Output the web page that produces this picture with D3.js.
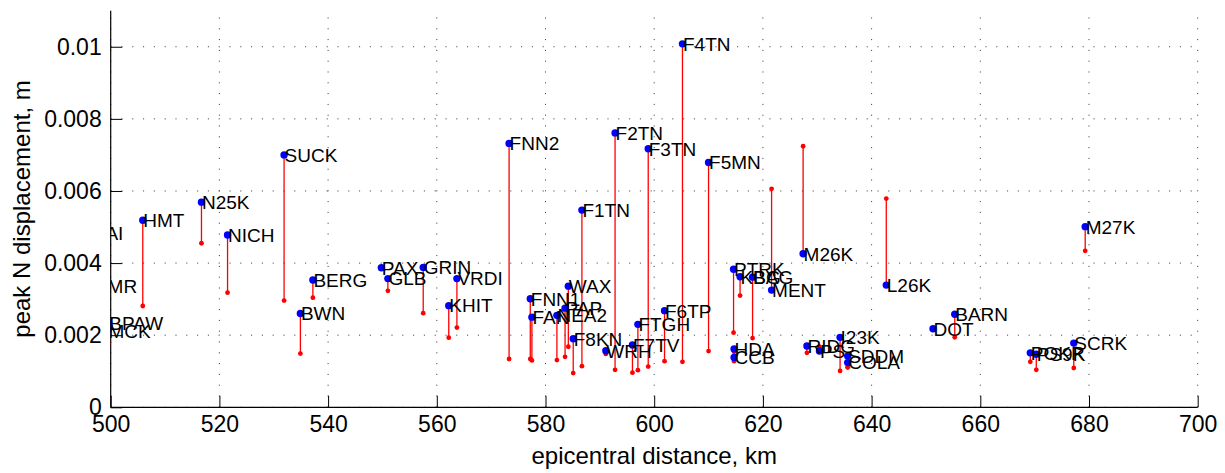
<!DOCTYPE html>
<html>
<head>
<meta charset="utf-8">
<script src="https://cdn.jsdelivr.net/npm/d3@7/dist/d3.min.js"></script>
<style>
  html, body { margin: 0; padding: 0; background: #fff; }
  svg { display: block; }
  text { font-family: "Liberation Sans", Arial, Helvetica, sans-serif; fill: #000; }
</style>
</head>
<body>
<svg id="chart" width="1225" height="473"></svg>
<script>
// Station codes, epicentral distance (km), observed and predicted peak N displacement (m)
const stations = ["KAI", "BMR", "BPAW", "MCK", "HMT", "N25K", "NICH", "SUCK", "BWN", "BERG",
  "PAX", "GLB", "GRIN", "VRDI", "KHIT", "FNN2", "FNN1", "FAN", "NEA2", "PAP", "WAX", "F8KN",
  "F1TN", "WRH", "F2TN", "F7TV", "FTGH", "F3TN", "F6TP", "F4TN", "F5MN", "PTRK", "HDA", "CCB",
  "KBG", "BAG", "MENT", "M26K", "RIDG", "PS", "I23K", "SDDM", "COLA", "L26K", "DOT", "BARN",
  "POKR", "PS9K", "SCRK", "M27K"];
const distance = [496.6, 497.0, 499.65, 499.5, 505.9, 516.7, 521.5, 531.9, 534.9, 537.2,
  549.8, 551.0, 557.5, 563.7, 562.2, 573.3, 577.2, 577.5, 582.1, 583.6, 584.2, 585.1,
  586.7, 591.1, 592.8, 596.0, 597.0, 598.9, 601.9, 605.2, 610.0, 614.6, 614.7, 614.7,
  615.8, 618.1, 621.6, 627.4, 628.1, 630.4, 634.2, 635.6, 635.6, 642.7, 651.3, 655.3,
  669.2, 670.3, 677.2, 679.3];
const observed = [0.00482, 0.00336, 0.00233, 0.00212, 0.00519, 0.00569, 0.00478, 0.00700, 0.00260, 0.00353,
  0.00387, 0.00357, 0.00388, 0.00357, 0.00282, 0.00732, 0.00301, 0.00250, 0.00255, 0.00275, 0.00336, 0.00190,
  0.00547, 0.00157, 0.00761, 0.00173, 0.00230, 0.00717, 0.00268, 0.01008, 0.00679, 0.00383, 0.00162, 0.00138,
  0.00362, 0.00361, 0.00325, 0.00426, 0.00170, 0.00156, 0.00194, 0.00142, 0.00124, 0.00339, 0.00218, 0.00258,
  0.00151, 0.00147, 0.00178, 0.00501];
const predicted = [0.00300, 0.00250, 0.00180, 0.00170, 0.00281, 0.00455, 0.00318, 0.00296, 0.00149, 0.00304,
  0.00385, 0.00323, 0.00261, 0.00221, 0.00193, 0.00134, 0.00134, 0.00130, 0.00131, 0.00140, 0.00168, 0.00095,
  0.00114, 0.00148, 0.00104, 0.00096, 0.00103, 0.00113, 0.00128, 0.00126, 0.00156, 0.00207, 0.00154, 0.00128,
  0.00310, 0.00192, 0.00606, 0.00724, 0.00151, 0.00168, 0.00101, 0.00111, 0.00111, 0.00579, 0.00215, 0.00194,
  0.00126, 0.00104, 0.00109, 0.00434];

const xTicks = [500, 520, 540, 560, 580, 600, 620, 640, 660, 680, 700];
const yTicks = [0, 0.002, 0.004, 0.006, 0.008, 0.01];
const xTitle = "epicentral distance, km";
const yTitle = "peak N displacement, m";

const svg = d3.select("#chart");
const plot = { left: 110.7, right: 1197.7, top: 10.7, bottom: 407.3 };

const x = d3.scaleLinear().domain([500, 700]).range([plot.left, plot.right]);
const y = d3.scaleLinear().domain([0, 0.011]).range([plot.bottom, plot.top]);

svg.append("defs").append("clipPath").attr("id", "plotClip")
  .append("rect")
  .attr("x", plot.left).attr("y", 0)
  .attr("width", plot.right - plot.left + 20).attr("height", plot.bottom);

// dotted grid
const grid = svg.append("g").attr("stroke", "#000").attr("stroke-width", 1)
  .attr("stroke-dasharray", "1,9.8").attr("opacity", 0.8);
grid.selectAll("line.v").data(xTicks).join("line")
  .attr("x1", d => x(d)).attr("x2", d => x(d))
  .attr("y1", plot.bottom).attr("y2", plot.top);
grid.selectAll("line.h").data(yTicks).join("line")
  .attr("x1", plot.left).attr("x2", plot.right)
  .attr("y1", d => y(d)).attr("y2", d => y(d));

// axes
const fmtY = d => d === 0 ? "0" : d3.format("~g")(d);
const xAxis = d3.axisBottom(x).tickValues(xTicks).tickSize(-11.5).tickPadding(8).tickFormat(d3.format("d"));
const yAxis = d3.axisLeft(y).tickValues(yTicks).tickSize(-11.5).tickPadding(9).tickFormat(fmtY);

const gx = svg.append("g").attr("transform", `translate(0,${plot.bottom})`).call(xAxis);
const gy = svg.append("g").attr("transform", `translate(${plot.left},0)`).call(yAxis);
[gx, gy].forEach(g => {
  g.select(".domain").attr("stroke", "#000").attr("stroke-width", 1.2);
  g.selectAll(".tick line").attr("stroke", "#000").attr("stroke-width", 1);
  g.selectAll(".tick text").style("font-size", "23px").attr("fill", "#000")
    .style("font-family", "'Liberation Sans', Arial, sans-serif");
});
gx.select(".domain").attr("d", `M${plot.left},0H${plot.right}`);
gy.select(".domain").attr("d", `M0,${plot.bottom}V${plot.top}`);

// axis titles
svg.append("text").attr("x", (plot.left + plot.right) / 2).attr("y", 464)
  .attr("text-anchor", "middle").style("font-size", "24px").text(xTitle);
svg.append("text").attr("transform", `translate(30,${(plot.top + plot.bottom) / 2}) rotate(-90)`)
  .attr("text-anchor", "middle").style("font-size", "24px").text(yTitle);

// station marks
const data = stations.map((s, i) => ({ s, d: distance[i], o: observed[i], p: predicted[i] }));
const marks = svg.append("g").attr("clip-path", "url(#plotClip)");

marks.selectAll("line.stem").data(data).join("line")
  .attr("x1", d => x(d.d)).attr("x2", d => x(d.d))
  .attr("y1", d => y(d.p)).attr("y2", d => y(d.o))
  .attr("stroke", "#ff0000").attr("stroke-width", 1.3);
marks.selectAll("circle.pred").data(data).join("circle")
  .attr("cx", d => x(d.d)).attr("cy", d => y(d.p)).attr("r", 2.4)
  .attr("fill", "#ff0000");
marks.selectAll("circle.obs").data(data).join("circle")
  .attr("cx", d => x(d.d)).attr("cy", d => y(d.o)).attr("r", 3.7)
  .attr("fill", "#0000ff");
marks.selectAll("text.lab").data(data).join("text")
  .attr("x", d => x(d.d) + 0.5).attr("y", d => y(d.o))
  .attr("dy", "0.36em").style("font-size", "19px")
  .text(d => d.s);
</script>
</body>
</html>
